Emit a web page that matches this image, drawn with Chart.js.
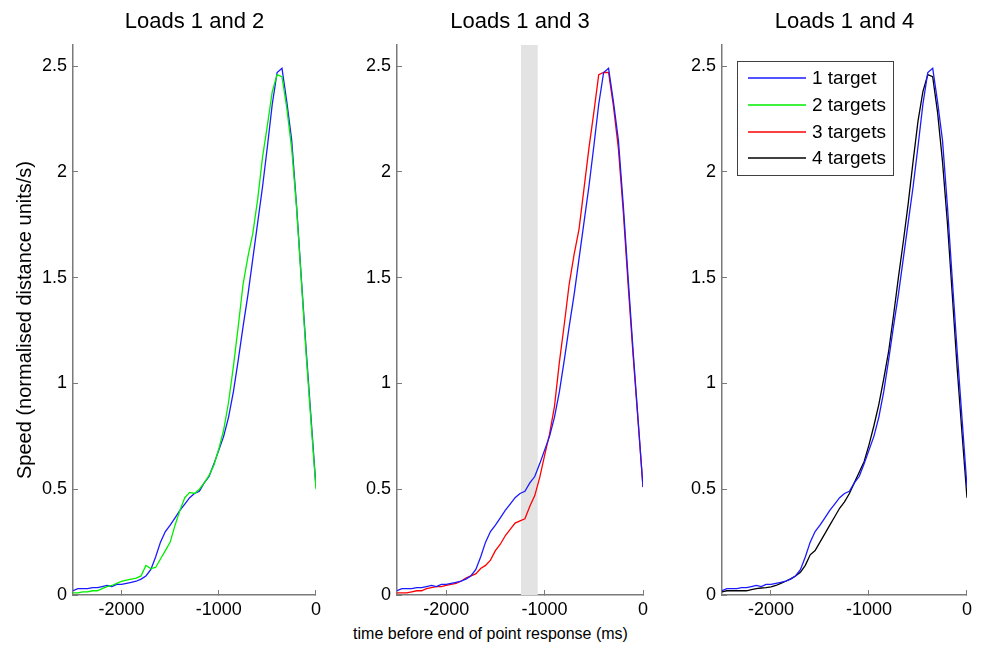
<!DOCTYPE html>
<html>
<head>
<meta charset="utf-8">
<script src="https://cdn.jsdelivr.net/npm/chart.js@4.4.0/dist/chart.umd.min.js"></script>
<style>
  body { margin: 0; background: #fff; }
  #wrap { position: relative; width: 981px; height: 645px; overflow: hidden; }
  canvas { position: absolute; top: 0; }
  #xlabel { position: absolute; left: 0; width: 981px; top: 625px; text-align: center;
            font: 16px 'Liberation Sans', Arial, sans-serif; color: #000; }
</style>
</head>
<body>
<div id="wrap">
  <canvas id="p1" width="330" height="625" style="left:0px"></canvas>
  <canvas id="p2" width="320" height="625" style="left:340px"></canvas>
  <canvas id="p3" width="316" height="625" style="left:665px"></canvas>
  <div id="xlabel">time before end of point response (ms)</div>
</div>
<script>
// time (ms) before end of point response
const times = [-2500,-2450,-2400,-2350,-2300,-2250,-2200,-2150,-2100,-2050,
  -2000,-1950,-1900,-1850,-1800,-1750,-1700,-1650,-1600,-1550,
  -1500,-1450,-1400,-1350,-1300,-1250,-1200,-1150,-1100,-1050,
  -1000,-950,-900,-850,-800,-750,-700,-650,-600,-550,
  -500,-450,-400,-350,-300,-250,-200,-150,-100,-50,0];

const speed1Target = [0.02,0.03,0.03,0.03,0.035,0.035,0.04,0.045,0.04,0.05,
  0.05,0.055,0.06,0.065,0.075,0.09,0.12,0.18,0.25,0.30,
  0.33,0.365,0.40,0.43,0.46,0.48,0.49,0.53,0.56,0.62,
  0.685,0.75,0.84,0.96,1.11,1.27,1.42,1.59,1.76,1.93,
  2.12,2.32,2.47,2.49,2.33,2.15,1.84,1.49,1.15,0.83,0.51];

const speed2Targets = [0.01,0.01,0.015,0.015,0.02,0.02,0.03,0.04,0.045,0.055,
  0.065,0.07,0.075,0.08,0.09,0.14,0.125,0.13,0.17,0.21,
  0.25,0.33,0.40,0.46,0.485,0.48,0.50,0.53,0.565,0.615,
  0.69,0.78,0.91,1.08,1.27,1.47,1.60,1.71,1.87,2.07,
  2.22,2.38,2.46,2.45,2.30,2.11,1.83,1.48,1.13,0.81,0.50];

const speed3Targets = [0.01,0.01,0.01,0.015,0.02,0.02,0.03,0.035,0.04,0.04,
  0.045,0.05,0.055,0.065,0.08,0.09,0.10,0.125,0.14,0.165,
  0.21,0.24,0.28,0.31,0.34,0.35,0.36,0.42,0.47,0.555,
  0.66,0.76,0.89,1.10,1.28,1.47,1.61,1.73,1.92,2.11,
  2.28,2.46,2.47,2.47,2.31,2.11,1.81,1.46,1.13,0.82,0.51];

const speed4Targets = [0.015,0.02,0.02,0.02,0.02,0.02,0.025,0.03,0.033,0.035,
  0.038,0.045,0.055,0.065,0.076,0.09,0.107,0.14,0.19,0.21,
  0.25,0.29,0.33,0.37,0.41,0.44,0.48,0.53,0.58,0.63,
  0.71,0.80,0.90,1.02,1.15,1.32,1.50,1.67,1.85,2.05,
  2.24,2.38,2.46,2.45,2.28,2.05,1.76,1.42,1.07,0.76,0.46];

const seriesLabels = ['1 target', '2 targets', '3 targets', '4 targets'];
const seriesColors = ['#1a1aff', '#00ee00', '#ff0000', '#000000'];
const panelTitles = ['Loads 1 and 2', 'Loads 1 and 3', 'Loads 1 and 4'];
const xTicks = [-2000, -1000, 0];
const yTicks = [0, 0.5, 1, 1.5, 2, 2.5];
const shadedBand = [-1240, -1070];

const FONT = "'Liberation Sans', Arial, sans-serif";
const AXIS_GREY = '#7a7a7a';
Chart.defaults.font.family = FONT;
Chart.defaults.color = '#000';

function series(i, values) {
  return {
    label: seriesLabels[i],
    data: times.map((t, k) => ({ x: t, y: values[k] })),
    borderColor: seriesColors[i],
    backgroundColor: seriesColors[i],
    borderWidth: 1.3,
    pointRadius: 0,
    tension: 0,
    fill: false
  };
}

const bandPlugin = {
  id: 'band',
  beforeDatasetsDraw(chart, args, opts) {
    if (!opts.range) return;
    const { ctx, chartArea, scales } = chart;
    const a = scales.x.getPixelForValue(opts.range[0]);
    const b = scales.x.getPixelForValue(opts.range[1]);
    ctx.save();
    ctx.fillStyle = '#e3e3e3';
    ctx.fillRect(a, chartArea.top, b - a, chartArea.bottom - chartArea.top);
    ctx.restore();
  }
};

const boxLegend = {
  id: 'boxLegend',
  afterDraw(chart, args, opts) {
    if (!opts.show) return;
    const { ctx, chartArea } = chart;
    const x0 = Math.round(chartArea.left + 15), y0 = Math.round(chartArea.top + 16), w = 156, h = 114;
    ctx.save();
    ctx.fillStyle = '#fff';
    ctx.fillRect(x0, y0, w, h);
    ctx.strokeStyle = '#404040';
    ctx.lineWidth = 1;
    ctx.strokeRect(x0 + 0.5, y0 + 0.5, w, h);
    ctx.font = '19px ' + FONT;
    ctx.textBaseline = 'middle';
    seriesLabels.forEach((lab, i) => {
      const y = Math.round(y0 + 16.7 + i * 26.9);
      ctx.beginPath();
      ctx.strokeStyle = seriesColors[i];
      ctx.lineWidth = 1.5;
      ctx.moveTo(x0 + 11, y);
      ctx.lineTo(x0 + 69, y);
      ctx.stroke();
      ctx.fillStyle = '#000';
      ctx.fillText(lab, x0 + 75, y + 1);
    });
    ctx.restore();
  }
};

function makePanel(id, idx, datasets, opts) {
  new Chart(document.getElementById(id), {
    type: 'line',
    data: { datasets: datasets },
    plugins: [bandPlugin, boxLegend],
    options: {
      responsive: false,
      animation: false,
      layout: { padding: { left: 0, right: opts.padRight, top: 0, bottom: 0 } },
      plugins: {
        legend: { display: false },
        tooltip: { enabled: false },
        title: {
          display: true,
          text: panelTitles[idx],
          fullSize: false,
          font: { size: 22, weight: 'normal' },
          color: '#000',
          padding: { top: 9, bottom: 9.6 }
        },
        band: { range: opts.band || null },
        boxLegend: { show: !!opts.legend }
      },
      scales: {
        x: {
          type: 'linear',
          min: -2500,
          max: 0,
          afterBuildTicks: s => { s.ticks = xTicks.map(v => ({ value: v })); },
          afterFit: s => { s.height = 30; },
          border: { display: true, color: AXIS_GREY, width: 1.5 },
          grid: { drawOnChartArea: false, drawTicks: true, tickLength: -5, color: AXIS_GREY },
          ticks: { font: { size: 18 }, color: '#000', padding: 9, maxRotation: 0,
                   callback: v => String(v) }
        },
        y: {
          type: 'linear',
          min: 0,
          max: 2.6,
          afterBuildTicks: s => { s.ticks = yTicks.map(v => ({ value: v })); },
          afterFit: s => { s.width = opts.yWidth; },
          border: { display: true, color: AXIS_GREY, width: 1.5 },
          grid: { drawOnChartArea: false, drawTicks: true, tickLength: -5, color: AXIS_GREY },
          ticks: { font: { size: 18 }, color: '#000', padding: 11, callback: v => String(v) },
          title: {
            display: !!opts.yTitle,
            text: 'Speed (normalised distance units/s)',
            font: { size: 20 },
            color: '#000',
            padding: { top: 13, bottom: 0 }
          }
        }
      }
    }
  });
}

makePanel('p1', 0, [series(1, speed2Targets), series(0, speed1Target)],
  { padRight: 11, yWidth: 73, yTitle: true });
makePanel('p2', 1, [series(0, speed1Target), series(2, speed3Targets)],
  { padRight: 17, yWidth: 57, band: shadedBand });
makePanel('p3', 2, [series(0, speed1Target), series(3, speed4Targets)],
  { padRight: 14, yWidth: 57, legend: true });
</script>
</body>
</html>
